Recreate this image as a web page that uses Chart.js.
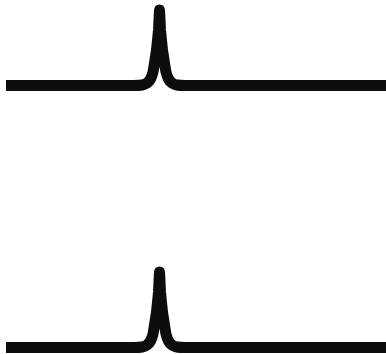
<!DOCTYPE html>
<html>
<head>
<meta charset="utf-8">
<script src="https://cdn.jsdelivr.net/npm/chart.js@4/dist/chart.umd.min.js"></script>
<style>
  html, body { margin: 0; padding: 0; background: #fff; }
  #wrap { width: 386px; height: 354px; }
</style>
</head>
<body>
<div id="wrap"><canvas id="chart"></canvas></div>
<script>
// traces (x position, signal level; level grows downward)
const upperX = [6, 134, 142, 147, 150.5, 153, 154.5, 156.5, 158.5, 159.5, 160.5, 162.5, 164.5, 166, 168.5, 172, 177, 185, 386]
const upperY = [85.5, 85.5, 85, 83, 79, 72, 63, 50, 30, 10, 30, 50, 63, 72, 79, 83, 85, 85.5, 85.5]
const lowerX = [6, 134, 142, 147, 150.5, 153, 154.5, 156.5, 158.5, 159.5, 160.5, 162.5, 164.5, 166, 168.5, 172, 177, 185, 386]
const lowerY = [347.5, 347.5, 347, 345, 341, 334, 325, 312, 292, 272, 292, 312, 325, 334, 341, 345, 347, 347.5, 347.5]

const toPoints = (xs, ys) => xs.map((x, i) => ({ x: x, y: ys[i] }))

const trace = (xs, ys) => ({
  data: toPoints(xs, ys),
  borderColor: '#0d0d0d',
  borderWidth: 11,
  borderJoinStyle: 'bevel',
  borderCapStyle: 'butt',
  pointRadius: 0,
  tension: 0.1,
  fill: false
})

new Chart(document.getElementById('chart'), {
  type: 'line',
  data: {
    datasets: [trace(upperX, upperY), trace(lowerX, lowerY)]
  },
  options: {
    responsive: true,
    maintainAspectRatio: false,
    animation: false,
    layout: { padding: 0 },
    plugins: { legend: { display: false }, tooltip: { enabled: false } },
    scales: {
      x: { type: 'linear', min: 0, max: 386, display: false },
      y: { type: 'linear', min: 0, max: 354, reverse: true, display: false }
    }
  }
})
</script>
</body>
</html>
